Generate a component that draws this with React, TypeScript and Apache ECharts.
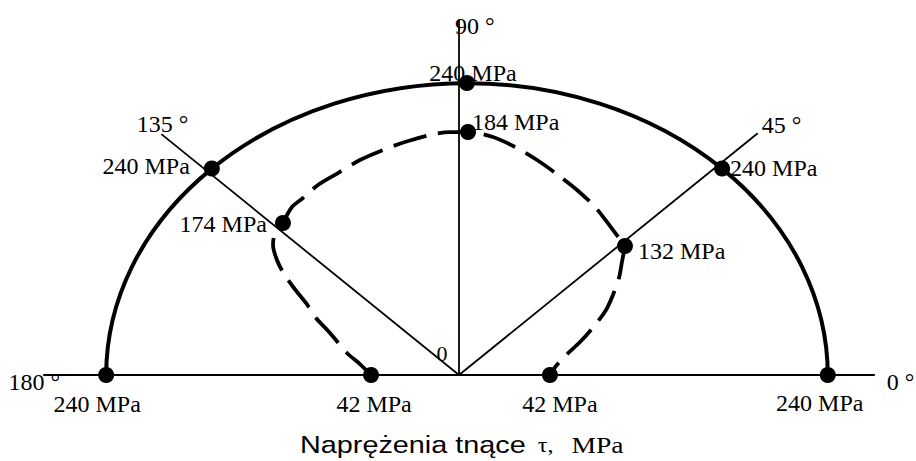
import React, { useEffect, useRef } from 'react';
import * as echarts from 'echarts';

// ---------- data ----------
const rayAngles = [0, 45, 90, 135, 180];
const rayLengths = [276.6, 281, 292, 280, 276.6];
const angleLabels = ['0 °', '45 °', '90 °', '135 °', '180 °'];

const outerValue = 240; // MPa, constant around the semicircle
const outerCenter = [5.3, 0];
const outerAngles = [0, 45, 90, 135, 180];

const innerAngles = [0, 45, 90, 135, 180];
const innerValues = [42, 132, 184, 174, 42];
// where the inner points sit on the schematic (plot units)
const innerPoints: number[][] = [
  [60.5, 0],
  [110.4, 106.0],
  [6.0, 199.7],
  [-117.1, 124.9],
  [-58.5, 0],
];

// dashed envelope (plot units)
const curveLeft: number[][] = [
  [-58.5, 0], [-65.9, 9.0], [-74.5, 18.1], [-85.8, 34.5], [-95.1, 46.8],
  [-101.8, 59.2], [-109.8, 71.5], [-116.4, 83.0], [-121.1, 94.5],
  [-123.7, 106.8], [-122.4, 116.7], [-117.1, 124.9],
];
const curveTop: number[][] = [
  [-117.1, 124.9], [-111.1, 138.1], [-103.8, 145.5], [-93.8, 156.2],
  [-80.5, 166.0], [-65.9, 176.7], [-50.6, 184.9], [-36.0, 191.5],
  [-19.3, 197.3], [-6.0, 199.7], [6.0, 199.7], [22.6, 195.6], [37.3, 187.4],
  [51.9, 176.7], [65.9, 164.4], [78.5, 152.1], [90.5, 138.1], [100.4, 122.5],
  [110.4, 106.0],
];
const curveRight: number[][] = [
  [110.4, 106.0], [108.4, 92.9], [106.4, 79.7], [102.4, 65.8], [97.8, 53.4],
  [90.5, 41.1], [80.5, 27.1], [71.2, 16.4], [64.5, 7.4], [60.5, 0],
];

const originLabel = '0';
const titleMain = 'Naprężenia tnące';
const titleSymbol = 'τ,';
const titleUnit = 'MPa';
const unit = 'MPa';

// ---------- layout / style ----------
const INK = '#000';
const SERIF = "'Liberation Serif', 'Times New Roman', serif";
const SANS = "'Liberation Sans', Arial, sans-serif";
const DOT = 16;

const outerLabelLayout: [number, number, string][] = [
  [-8, 28, 'center'],
  [8, -1, 'left'],
  [6, -10, 'center'],
  [-22, -3, 'right'],
  [-9, 29, 'center'],
];
const innerLabelLayout: [number, number, string][] = [
  [10, 29, 'center'],
  [13, 5, 'left'],
  [4, -10, 'left'],
  [-16, 1, 'right'],
  [3, 29, 'center'],
];
const rayLabelLayout: [number, number, string][] = [
  [12, 7, 'left'],
  [4, -8, 'left'],
  [-4, 6, 'left'],
  [27, -10, 'right'],
  [17, 7, 'right'],
];
const originLabelLayout: [number, number, string] = [-17, -22, 'center'];

const rad = (d: number) => (d * Math.PI) / 180;

function dotItem(value: number[], text: string, lay: [number, number, string], size: number) {
  return {
    value,
    name: text,
    label: {
      show: true,
      position: [lay[0] + size / 2, lay[1] + size / 2],
      align: lay[2],
      verticalAlign: 'middle',
    } as any,
  };
}

export default function App() {
  const ref = useRef<HTMLDivElement>(null);

  useEffect(() => {
    document.body.style.margin = '0';
    if (!ref.current) return;
    const chart = echarts.init(ref.current, undefined, { renderer: 'svg' });

    const outerDots = outerAngles.map((a, i) =>
      dotItem(
        [outerCenter[0] + outerValue * Math.cos(rad(a)), outerCenter[1] + outerValue * Math.sin(rad(a))],
        `${outerValue} ${unit}`,
        outerLabelLayout[i],
        DOT
      )
    );
    const innerDots = innerAngles.map((a, i) =>
      dotItem(innerPoints[i], `${innerValues[i]} ${unit}`, innerLabelLayout[i], DOT)
    );
    const rayEnds = rayAngles.map((a, i) =>
      dotItem(
        [rayLengths[i] * Math.cos(rad(a)), rayLengths[i] * Math.sin(rad(a))],
        angleLabels[i],
        rayLabelLayout[i],
        2
      )
    );
    const originItem = dotItem([0, 0], originLabel, originLabelLayout, 2);
    originItem.label.fontSize = 22;

    const labelStyle = {
      color: INK,
      fontFamily: SERIF,
      fontSize: 24,
      formatter: '{b}',
    };

    const curveSeries = [curveLeft, curveTop, curveRight].map((pts) => ({
      type: 'line',
      data: pts,
      smooth: 0.3,
      symbol: 'none',
      silent: true,
      z: 4,
      lineStyle: { color: INK, width: 3.8, type: [34, 12], cap: 'butt', opacity: 1 },
    }));

    chart.setOption({
      animation: false,
      backgroundColor: '#ffffff',
      grid: { left: 8, top: 10, width: 902, height: 438, containLabel: false },
      xAxis: { type: 'value', min: -300, max: 300, show: false, splitLine: { show: false } },
      yAxis: { type: 'value', min: -60, max: 300, show: false, splitLine: { show: false } },
      tooltip: { show: false },
      series: [
        {
          type: 'custom',
          coordinateSystem: 'cartesian2d',
          silent: true,
          z: 2,
          data: rayAngles.map((a, i) => [a, rayLengths[i]]),
          renderItem: (params: any, api: any) => {
            const ang = rad(api.value(0));
            const L = api.value(1);
            const p0 = api.coord([0, 0]);
            const p1 = api.coord([L * Math.cos(ang), L * Math.sin(ang)]);
            return {
              type: 'line',
              shape: { x1: p0[0], y1: p0[1], x2: p1[0], y2: p1[1] },
              style: { stroke: INK, lineWidth: 1.8 },
            };
          },
        },
        {
          type: 'custom',
          coordinateSystem: 'cartesian2d',
          silent: true,
          z: 3,
          data: [[outerCenter[0], outerCenter[1], outerValue]],
          renderItem: (params: any, api: any) => {
            const c = api.coord([api.value(0), api.value(1)]);
            const s = api.size([api.value(2), api.value(2)]);
            const rx = s[0];
            const ry = s[1];
            return {
              type: 'path',
              shape: {
                pathData: `M ${c[0] + rx} ${c[1]} A ${rx} ${ry} 0 0 0 ${c[0] - rx} ${c[1]}`,
              },
              style: { fill: 'none', stroke: INK, lineWidth: 4 },
            };
          },
        },
        ...curveSeries,
        {
          type: 'scatter',
          symbol: 'circle',
          symbolSize: DOT,
          silent: true,
          z: 6,
          itemStyle: { color: INK, opacity: 1 },
          label: labelStyle,
          data: [...outerDots, ...innerDots],
        },
        {
          type: 'scatter',
          symbol: 'circle',
          symbolSize: 2,
          silent: true,
          z: 6,
          itemStyle: { color: 'rgba(0,0,0,0)', opacity: 1 },
          label: labelStyle,
          data: [...rayEnds, originItem],
        },
      ],
      graphic: [
        {
          type: 'text',
          x: 300,
          y: 445,
          scaleX: 1.2,
          silent: true,
          style: {
            text: `{a|${titleMain}}  {b|${titleSymbol}}   {c|${titleUnit}}`,
            fontFamily: SERIF,
            fontSize: 20,
            fill: INK,
            align: 'left',
            verticalAlign: 'middle',
            rich: {
              a: { fontFamily: SANS, fontSize: 24, fill: INK },
              b: { fontFamily: SERIF, fontSize: 20, fill: INK },
              c: { fontFamily: SERIF, fontSize: 23, fill: INK },
            },
          },
        },
      ],
    });

    return () => chart.dispose();
  }, []);

  return <div ref={ref} style={{ width: 916, height: 461, background: '#fff' }} />;
}
